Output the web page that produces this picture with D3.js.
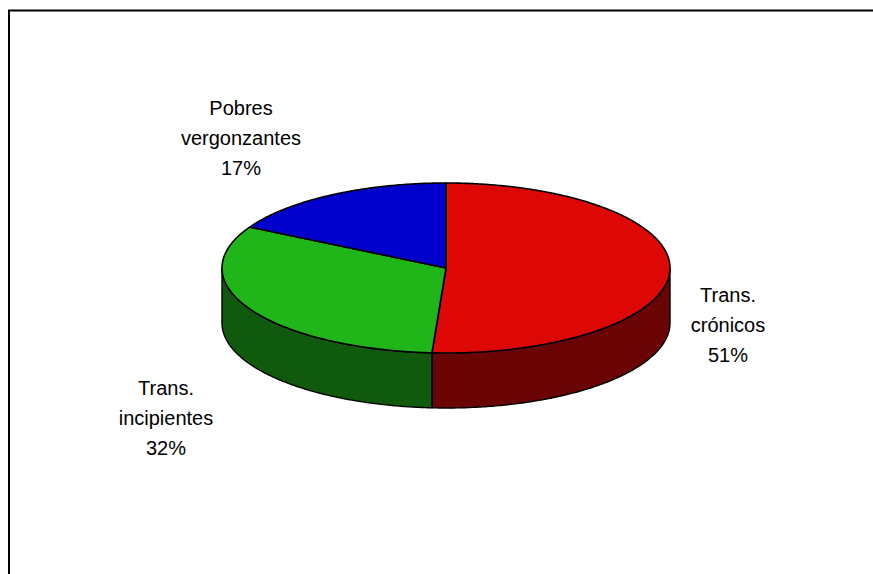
<!DOCTYPE html>
<html>
<head>
<meta charset="utf-8">
<script src="https://cdn.jsdelivr.net/npm/d3@7"></script>
<style>
html,body{margin:0;padding:0;background:#fff;}
svg{display:block;}
</style>
</head>
<body>
<svg id="chart" width="873" height="574"></svg>
<script>
const categories = ["Trans. crónicos", "Trans. incipientes", "Pobres vergonzantes"];
const values = [51, 32, 17];
const labelLines = [["Trans.", "crónicos", "51%"], ["Trans.", "incipientes", "32%"], ["Pobres", "vergonzantes", "17%"]];
const topColors = ["#DD0805", "#20B61A", "#0000CC"];
const sideColors = ["#6B0404", "#105A0D", "#00006B"];

const svg = d3.select("#chart");
const W = 873, H = 574;
svg.append("rect").attr("width", W).attr("height", H).attr("fill", "#fff");

// frame (only top and left visible)
svg.append("path").attr("d", `M9,574 L9,10.5 L873,10.5`).attr("fill", "none")
  .attr("stroke", "#000").attr("stroke-width", 2);

const cx = 446, cy = 268, rx = 224, ry = 85, depth = 55;
const sx = d3.scaleLinear().domain([-1, 1]).range([cx - rx, cx + rx]);
const sy = d3.scaleLinear().domain([-1, 1]).range([cy - ry, cy + ry]);
const pt = (t, dz = 0) => [sx(Math.sin(t)), sy(-Math.cos(t)) + dz];

const pie = d3.pie().sort(null).value(d => d)(values);
const line = d3.line();

function arcPts(a, b, dz) {
  const n = Math.max(2, Math.ceil(Math.abs(b - a) / 0.01));
  return d3.range(n + 1).map(i => pt(a + (b - a) * i / n, dz));
}

// side walls (front half: PI/2 .. 3PI/2)
const g = svg.append("g");
pie.forEach((p, i) => {
  const a = Math.max(p.startAngle, Math.PI / 2);
  const b = Math.min(p.endAngle, 3 * Math.PI / 2);
  if (b <= a) return;
  const pts = arcPts(a, b, 0).concat(arcPts(b, a, depth));
  g.append("path").attr("d", line(pts) + "Z")
    .attr("fill", sideColors[i]).attr("stroke", "#000").attr("stroke-width", 1.4)
    .attr("stroke-linejoin", "round");
});

// top faces
pie.forEach((p, i) => {
  const pts = [[cx, cy]].concat(arcPts(p.startAngle, p.endAngle, 0));
  g.append("path").attr("d", line(pts) + "Z")
    .attr("fill", topColors[i]).attr("stroke", "#000").attr("stroke-width", 1.6)
    .attr("stroke-linejoin", "round");
});

// labels
const labelPos = [[728, 302], [166, 395], [241, 115]];
const lg = svg.append("g").attr("font-family", "Liberation Sans, Arial, sans-serif")
  .attr("font-size", 20).attr("fill", "#000").attr("text-anchor", "middle");
labelLines.forEach((lines, i) => {
  lines.forEach((t, j) => {
    lg.append("text").attr("x", labelPos[i][0]).attr("y", labelPos[i][1] + j * 30).text(t);
  });
});
</script>
</body>
</html>
